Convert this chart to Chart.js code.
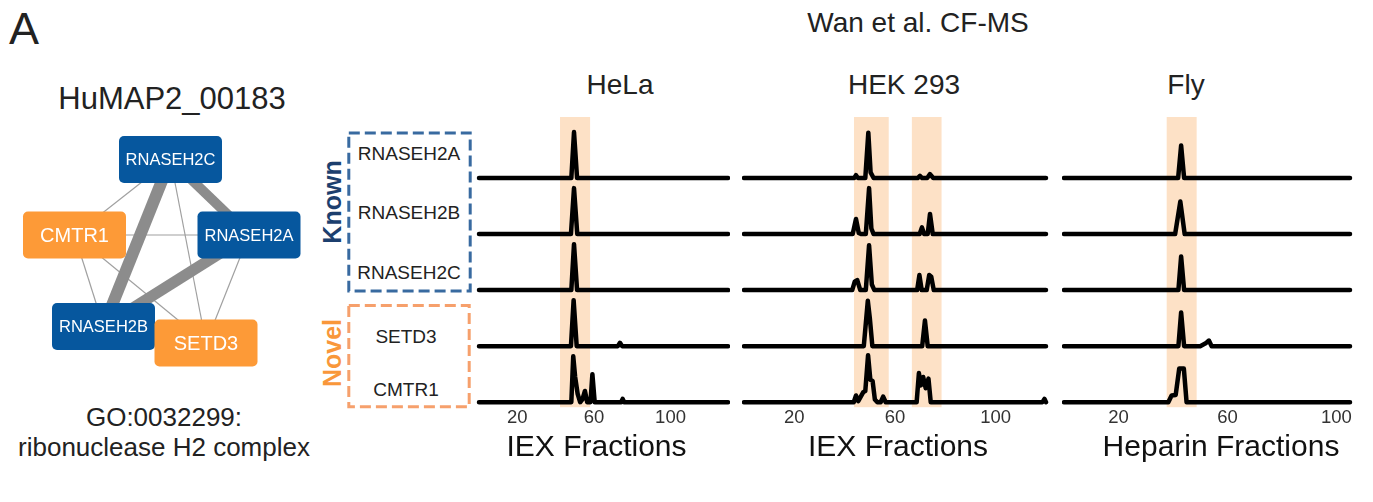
<!DOCTYPE html>
<html>
<head>
<meta charset="utf-8">
<script src="https://cdn.jsdelivr.net/npm/chart.js@4.4.1/dist/chart.umd.min.js"></script>
<style>
    body { margin: 0; width: 1373px; height: 502px; overflow: hidden; background: #fff; position: relative;
           font-family: "Liberation Sans", Arial, sans-serif; color: #222; }
    .t { position: absolute; white-space: nowrap; line-height: 1; transform: translate(-50%, -50%); }
    .rot { transform: translate(-50%, -50%) rotate(-90deg); font-weight: bold; }
    canvas { position: absolute; top: 0; }
    svg { position: absolute; left: 0; top: 0; }
</style>
</head>
<body>
<div id="render"></div>
<script>
// ---- data ----
const proteins = ['RNASEH2A', 'RNASEH2B', 'RNASEH2C', 'SETD3', 'CMTR1']
const fractionTicks = [20, 60, 100]

// [fraction, relative abundance] pairs, one list per protein (top to bottom)
const helaTraces = [
    [[0, 0], [48.2, 0], [49.6, 0.82], [51.2, 0], [130, 0]],
    [[0, 0], [48, 0], [49.6, 0.82], [51.3, 0], [130, 0]],
    [[0, 0], [48.2, 0], [49.6, 0.82], [51.2, 0], [130, 0]],
    [[0, 0], [48, 0], [49.4, 0.82], [51, 0], [72.5, 0], [73.6, 0.06], [74.7, 0], [130, 0]],
    [[0, 0], [48.2, 0], [49.2, 0.82], [50.2, 0.45], [51.5, 0.15], [52.8, 0], [54, 0.05], [55.3, 0.2], [56.5, 0],
     [58.2, 0], [59.2, 0.5], [60.4, 0], [74.2, 0], [75, 0.06], [75.8, 0], [130, 0]]
]
const hekTraces = [
    [[0, 0], [43.8, 0], [44.5, 0.05], [45.3, 0], [48.2, 0], [49.4, 0.81], [50.3, 0.1], [51.5, 0], [69, 0],
     [69.9, 0.04], [70.8, 0], [72.8, 0], [73.9, 0.07], [75.2, 0], [120, 0]],
    [[0, 0], [43.2, 0], [44.5, 0.27], [45.6, 0.02], [46.5, 0], [48.4, 0], [49.7, 0.82], [50.6, 0.1], [51.5, 0],
     [69.8, 0], [70.7, 0.12], [71.6, 0], [73, 0], [73.9, 0.36], [75, 0], [120, 0]],
    [[0, 0], [43, 0], [44, 0.15], [45, 0.18], [46.2, 0], [48.4, 0], [49.7, 0.8], [50.8, 0.1], [51.8, 0], [68.8, 0],
     [69.7, 0.27], [70.6, 0], [72.6, 0], [73.6, 0.27], [74.4, 0.24], [75.4, 0], [120, 0]],
    [[0, 0], [47.6, 0], [49.2, 0.81], [50, 0.5], [51, 0], [70.8, 0], [71.9, 0.46], [73, 0], [120, 0]],
    [[0, 0], [43.6, 0], [44.5, 0.12], [45.4, 0.02], [46.4, 0.1], [47.4, 0.18], [48.2, 0.2], [49.3, 0.84],
     [50.2, 0.4], [51.1, 0.38], [52, 0.05], [53, 0], [54.3, 0], [55.3, 0.1], [56.3, 0], [68.6, 0], [69.5, 0.52],
     [70.3, 0.3], [71.2, 0.45], [72.2, 0.25], [73.3, 0.42], [74.2, 0], [118.6, 0], [119.4, 0.06], [120, 0]]
]
const flyTraces = [
    [[0, 0], [41.9, 0], [43, 0.58], [44.1, 0], [105, 0]],
    [[0, 0], [40.8, 0], [42.7, 0.58], [44.3, 0], [105, 0]],
    [[0, 0], [42, 0], [43, 0.6], [44.1, 0], [105, 0]],
    [[0, 0], [42, 0], [43, 0.6], [44.1, 0], [50, 0], [52, 0.05], [53.2, 0.1], [54.2, 0], [105, 0]],
    [[0, 0], [38.3, 0], [39.5, 0.12], [41, 0.13], [42.3, 0.6], [44, 0.6], [45, 0], [105, 0]]
]

// highlighted fraction ranges
const helaBands = [[42.3, 58]]
const hekBands = [[43.7, 57.5], [66.7, 78.5]]
const flyBands = [[37.7, 48.7]]

// network: layout coordinates, groups and edge weights
const nodeNames = ['RNASEH2C', 'RNASEH2A', 'CMTR1', 'RNASEH2B', 'SETD3']
const nodeX = [170.5, 249, 74.5, 103.5, 206]
const nodeY = [159.5, 235, 235, 326.5, 343]
const nodeKnown = [true, true, false, true, false]
const edgeFrom = [0, 0, 1, 0, 0, 2, 2, 2, 1]
const edgeTo = [3, 1, 3, 2, 4, 1, 3, 4, 4]
const edgeWeight = [12, 10, 11, 1.2, 1.2, 1.2, 1.2, 1.2, 1.2]

// ---- page ----
Chart.defaults.font.family = '"Liberation Sans", Arial, sans-serif'
Chart.defaults.color = '#222'

const getTemplate = () => {
    return `
        <div class="t" style="left:24px;top:28px;font-size:45px">A</div>
        <div class="t" style="left:172px;top:98px;font-size:31px">HuMAP2_00183</div>
        <div class="t" style="left:164px;top:417px;font-size:26px">GO:0032299:</div>
        <div class="t" style="left:164px;top:447px;font-size:26px">ribonuclease H2 complex</div>
        <div class="t" style="left:918px;top:23px;font-size:28px">Wan et al. CF-MS</div>
        <div class="t" style="left:620px;top:85px;font-size:28px">HeLa</div>
        <div class="t" style="left:904px;top:85px;font-size:28px">HEK 293</div>
        <div class="t" style="left:1186px;top:85px;font-size:28px">Fly</div>
        <div class="t rot" style="left:332px;top:202px;font-size:25px;color:#1c3f6e">Known</div>
        <div class="t rot" style="left:332px;top:353px;font-size:25px;color:#f9973a">Novel</div>
        <div class="t" style="left:409px;top:153px;font-size:19px">${proteins[0]}</div>
        <div class="t" style="left:409px;top:212px;font-size:19px">${proteins[1]}</div>
        <div class="t" style="left:409px;top:272px;font-size:19px">${proteins[2]}</div>
        <div class="t" style="left:406px;top:336px;font-size:19px">${proteins[3]}</div>
        <div class="t" style="left:406px;top:389px;font-size:19px">${proteins[4]}</div>
        <svg width="1373" height="502">
            <rect x="348.8" y="133" width="121.4" height="158" fill="none" stroke="#386aa0" stroke-width="3" stroke-dasharray="11 5"/>
            <rect x="348.8" y="305.5" width="120.4" height="101.3" fill="none" stroke="#f6a06c" stroke-width="3" stroke-dasharray="11 5"/>
        </svg>
        <canvas id="net" width="330" height="280" style="left:0;top:110px"></canvas>
        <canvas id="hela" width="267" height="502" style="left:463px"></canvas>
        <canvas id="hek" width="312" height="502" style="left:742px"></canvas>
        <canvas id="fly" width="318" height="502" style="left:1062px"></canvas>
        `
}

document.getElementById('render').insertAdjacentHTML('beforeend', getTemplate())

// network
const netDatasets = edgeFrom.map((f, i) => ({
    type: 'line',
    data: [{x: nodeX[f], y: nodeY[f]}, {x: nodeX[edgeTo[i]], y: nodeY[edgeTo[i]]}],
    borderColor: edgeWeight[i] > 3 ? '#8c8c8c' : '#a0a0a0',
    borderWidth: edgeWeight[i],
    pointRadius: 0
}))
netDatasets.push({
    type: 'scatter',
    data: nodeNames.map((n, i) => ({x: nodeX[i], y: nodeY[i]})),
    pointRadius: 0
})

const nodePlugin = {
    id: 'nodes',
    afterDatasetsDraw(chart) {
        const ctx = chart.ctx
        const meta = chart.getDatasetMeta(chart.data.datasets.length - 1)
        ctx.save()
        meta.data.forEach((pt, i) => {
            ctx.fillStyle = nodeKnown[i] ? '#06579e' : '#fd9a37'
            ctx.beginPath()
            ctx.roundRect(pt.x - 51.5, pt.y - 23.5, 103, 47, 5)
            ctx.fill()
            ctx.fillStyle = '#fff'
            ctx.font = (nodeKnown[i] ? '16.5px' : '20px') + ' "Liberation Sans", Arial, sans-serif'
            ctx.textAlign = 'center'
            ctx.textBaseline = 'middle'
            ctx.fillText(nodeNames[i], pt.x, pt.y + 1)
        })
        ctx.restore()
    }
}

new Chart(document.getElementById('net'), {
    type: 'scatter',
    data: {datasets: netDatasets},
    options: {
        responsive: false,
        animation: false,
        layout: {padding: 0},
        plugins: {legend: {display: false}, tooltip: {enabled: false}},
        scales: {
            x: {type: 'linear', min: 0, max: 330, display: false},
            y: {type: 'linear', min: 110, max: 390, reverse: true, display: false}
        }
    },
    plugins: [nodePlugin]
})

// ridge panels
const makePanel = (id, traces, bands, min, max, axisTitle) => {
    const bandPlugin = {
        id: 'bands',
        beforeDatasetsDraw(chart) {
            const {ctx, chartArea, scales: {x}} = chart
            ctx.save()
            ctx.fillStyle = '#fde1c6'
            bands.forEach(([a, b]) => {
                const x0 = x.getPixelForValue(a)
                const x1 = x.getPixelForValue(b)
                ctx.fillRect(x0, chartArea.top, x1 - x0, chartArea.height)
            })
            ctx.restore()
        }
    }

    const datasets = traces.map((tr, i) => ({
        label: proteins[i],
        data: tr.map(p => ({x: p[0], y: p[1] + (traces.length - 1 - i)})),
        borderColor: '#000',
        borderWidth: 4.5,
        pointRadius: 0,
        tension: 0,
        borderCapStyle: 'round',
        borderJoinStyle: 'round',
        clip: false
    }))

    return new Chart(document.getElementById(id), {
        type: 'line',
        data: {datasets},
        options: {
            responsive: false,
            animation: false,
            layout: {padding: {top: 117, bottom: 36.6, left: 0, right: 0}},
            plugins: {legend: {display: false}, tooltip: {enabled: false}},
            scales: {
                x: {
                    type: 'linear', min, max,
                    grid: {display: false, drawTicks: false},
                    border: {display: false},
                    afterBuildTicks: s => { s.ticks = fractionTicks.map(v => ({value: v})) },
                    ticks: {padding: 0, color: '#333', font: {size: 18.5}, maxRotation: 0},
                    title: {display: true, text: axisTitle, color: '#111', font: {size: 30}, padding: {top: 0, bottom: 0}}
                },
                y: {display: false, min: -0.089, max: 5.089}
            }
        },
        plugins: [bandPlugin]
    })
}

makePanel('hela', helaTraces, helaBands, -8.353, 131.04, 'IEX Fractions')
makePanel('hek', hekTraces, hekBands, -0.795, 123.18, 'IEX Fractions')
makePanel('fly', flyTraces, flyBands, -0.734, 116.01, 'Heparin Fractions')
</script>
</body>
</html>
